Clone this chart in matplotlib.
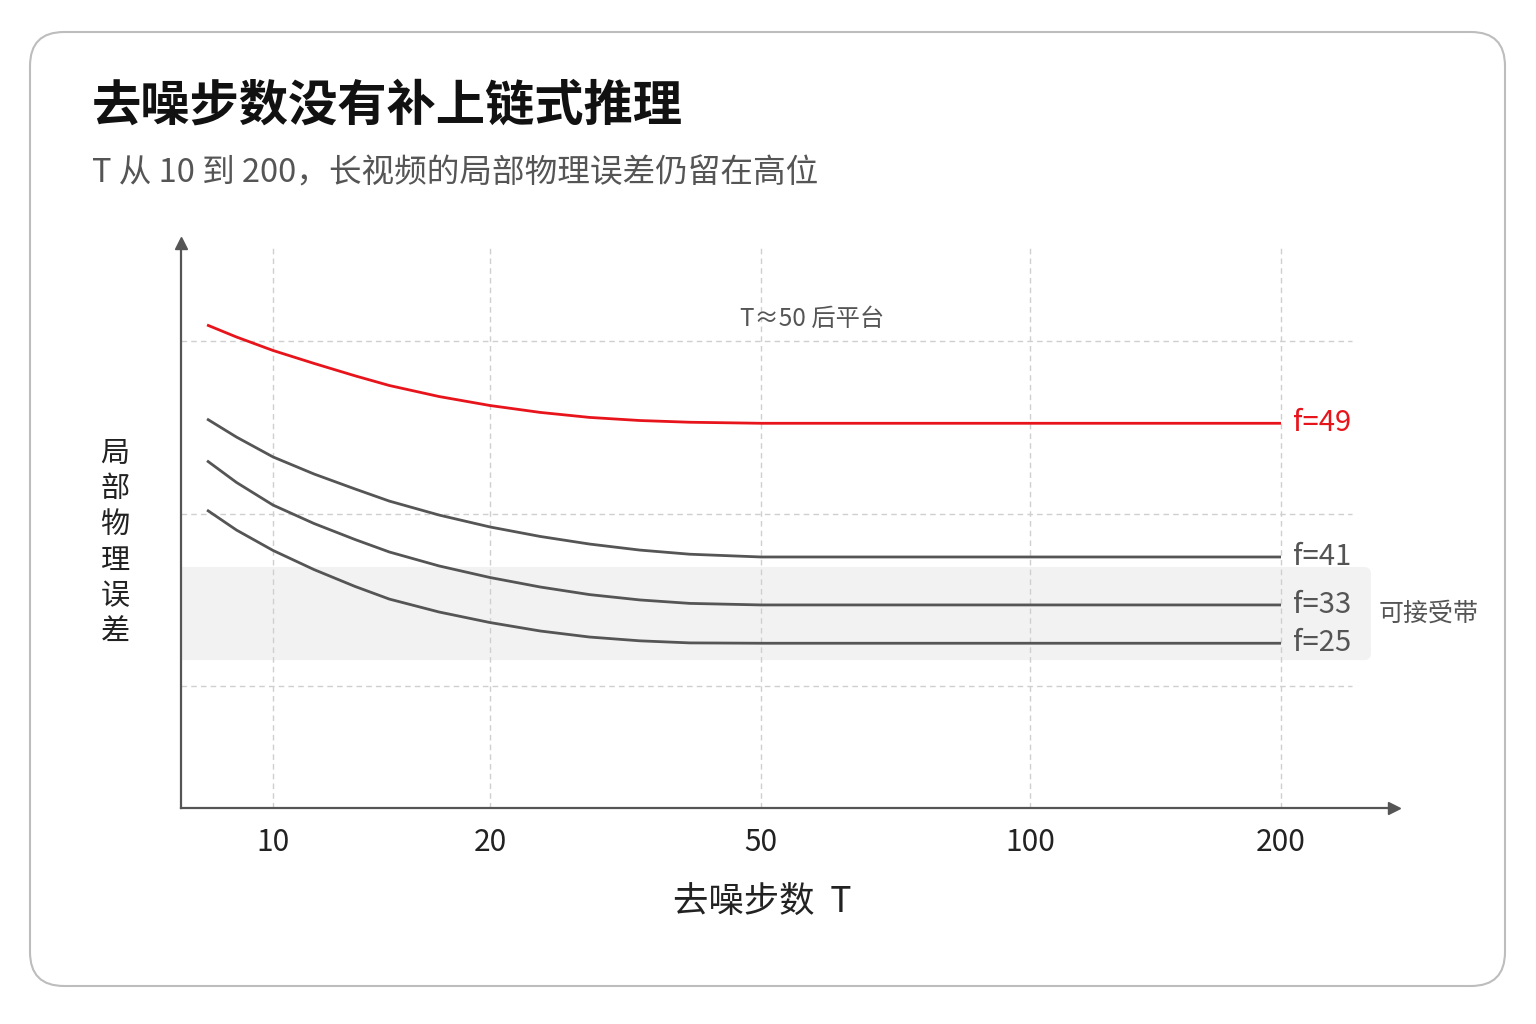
import numpy as np
import matplotlib
matplotlib.use("Agg")
import matplotlib.pyplot as plt
from matplotlib.patches import FancyBboxPatch
from matplotlib.transforms import IdentityTransform

plt.rcParams['font.family'] = ['Noto Sans CJK SC', 'DejaVu Sans']

# ---- data ----
T_STEPS = [8.1, 8.9, 10, 11.4, 13, 14.5, 17, 20, 23.7, 28, 33.2, 39.3, 50, 100, 200]
ERR_F49 = [3.093, 3.023, 2.945, 2.870, 2.798, 2.742, 2.678, 2.626, 2.586, 2.557, 2.539, 2.529, 2.523, 2.523, 2.523]
ERR_F41 = [2.548, 2.443, 2.328, 2.229, 2.142, 2.072, 1.991, 1.922, 1.867, 1.823, 1.788, 1.764, 1.748, 1.748, 1.748]
ERR_F33 = [2.306, 2.180, 2.049, 1.942, 1.849, 1.777, 1.696, 1.629, 1.574, 1.530, 1.499, 1.479, 1.470, 1.470, 1.470]
ERR_F25 = [2.020, 1.904, 1.786, 1.675, 1.577, 1.504, 1.429, 1.368, 1.319, 1.284, 1.262, 1.250, 1.248, 1.248, 1.248]
SERIES = [("f=49", ERR_F49), ("f=41", ERR_F41), ("f=33", ERR_F33), ("f=25", ERR_F25)]
TICK_T = [10, 20, 50, 100, 200]
GRID_Y = [1, 2, 3]
BAND = (1.15, 1.69)  # acceptable band

# ---- x scale: ticks are not evenly spaced in log, use measured slots ----
TICK_SLOT = [273, 490, 761, 1030, 1281]
_lt = np.log(TICK_T)
_l1 = np.log(1.0)
_l2 = np.log(1000.0)
_s_lo = (TICK_SLOT[1] - TICK_SLOT[0]) / (_lt[1] - _lt[0])
_s_hi = (TICK_SLOT[-1] - TICK_SLOT[-2]) / (_lt[-1] - _lt[-2])
ANCH_L = np.concatenate([[_l1], _lt, [_l2]])
ANCH_U = np.concatenate([[TICK_SLOT[0] - _s_lo * (_lt[0] - _l1)], TICK_SLOT,
                         [TICK_SLOT[-1] + _s_hi * (_l2 - _lt[-1])]])


def fwd(t):
    t = np.clip(np.asarray(t, dtype=float), 1e-6, None)
    return np.interp(np.log(t), ANCH_L, ANCH_U)


def inv(u):
    return np.exp(np.interp(np.asarray(u, dtype=float), ANCH_U, ANCH_L))


RED = '#e8141b'
GREY = '#555555'

fig = plt.figure(figsize=(15.36, 10.24), dpi=100)
fig.patch.set_facecolor('white')

# card
card = FancyBboxPatch((30, 38), 1475, 954, boxstyle='round,pad=0,rounding_size=34',
                      transform=IdentityTransform(), facecolor='white',
                      edgecolor='#bdbdbd', linewidth=1.5, zorder=0)
fig.add_artist(card)

ax = fig.add_axes([181 / 1536, 1 - 808 / 1024, (1394 - 181) / 1536, (808 - 243) / 1024])
ax.set_facecolor('none')
ax.set_xscale('function', functions=(fwd, inv))
XLIM = (inv(181), inv(1394))
YLIM = (0.293, 3.568)
ax.set_xlim(*XLIM)
ax.set_ylim(*YLIM)

# band with rounded right corners (left side is clipped by the axis)
bx0 = ax.transAxes.transform((0, 0))[0] - 14
bx1 = ax.transAxes.transform((0.981, 0))[0]
by0 = ax.transData.transform((10, BAND[0]))[1]
by1 = ax.transData.transform((10, BAND[1]))[1]
band = FancyBboxPatch((bx0, by0), bx1 - bx0, by1 - by0, boxstyle='round,pad=0,rounding_size=7',
                      transform=IdentityTransform(), facecolor='#f2f2f2', edgecolor='none',
                      zorder=0)
ax.add_patch(band)
ax.set_xlim(*XLIM)
ax.set_ylim(*YLIM)

# grid
ax.hlines(GRID_Y, 0, 0.965, transform=ax.get_yaxis_transform(), colors='#cfcfcf',
          linestyles=(0, (4, 3)), linewidth=1, zorder=1)
ax.vlines(TICK_T, YLIM[0], 3.545, colors='#cfcfcf', linestyles=(0, (4, 3)),
          linewidth=1, zorder=1)

# curves
for name, vals in SERIES:
    col = RED if name == 'f=49' else GREY
    ax.plot(T_STEPS, vals, color=col, lw=2, zorder=3, solid_capstyle='butt',
            solid_joinstyle='round')
    ax.annotate(name, xy=(T_STEPS[-1], vals[-1]), xytext=(9, 0), textcoords='offset points',
                ha='left', va='center', fontsize=21, color=col)

ax.text(0.987, (BAND[0] + BAND[1]) / 2, '可接受带', transform=ax.get_yaxis_transform(),
        ha='left', va='center', fontsize=18, color=GREY)
ax.text(57, 3.13, 'T≈50 后平台', ha='center', va='center', fontsize=17.5, color=GREY)

# axes styling
for s in ['top', 'right']:
    ax.spines[s].set_visible(False)
for s in ['left', 'bottom']:
    ax.spines[s].set_color(GREY)
    ax.spines[s].set_linewidth(1.6)
ax.plot(1, 0, '>', transform=ax.transAxes, clip_on=False, color=GREY, ms=9)
ax.plot(0, 1, '^', transform=ax.transAxes, clip_on=False, color=GREY, ms=9)

ax.set_xticks(TICK_T)
ax.set_xticklabels([str(t) for t in TICK_T])
ax.xaxis.set_minor_locator(matplotlib.ticker.NullLocator())
ax.set_yticks([])
ax.tick_params(axis='x', length=0, pad=14, labelsize=21.5, labelcolor='#222222')

# texts
fig.text(92 / 1536, 1 - 106 / 1024, '去噪步数没有补上链式推理', fontsize=35.5, fontweight='bold',
         color='#111111', ha='left', va='center')
fig.text(92 / 1536, 1 - 174 / 1024, 'T 从 10 到 200，长视频的局部物理误差仍留在高位', fontsize=23.5,
         color='#555555', ha='left', va='center')
fig.text(115 / 1536, 1 - 543 / 1024, '\n'.join('局部物理误差'), fontsize=21, color='#222222',
         ha='center', va='center', linespacing=1.25)
fig.text(762 / 1536, 1 - 902 / 1024, '去噪步数  T', fontsize=25.5, color='#222222',
         ha='center', va='center')

fig.savefig('out.png', dpi=100, facecolor=fig.get_facecolor())
